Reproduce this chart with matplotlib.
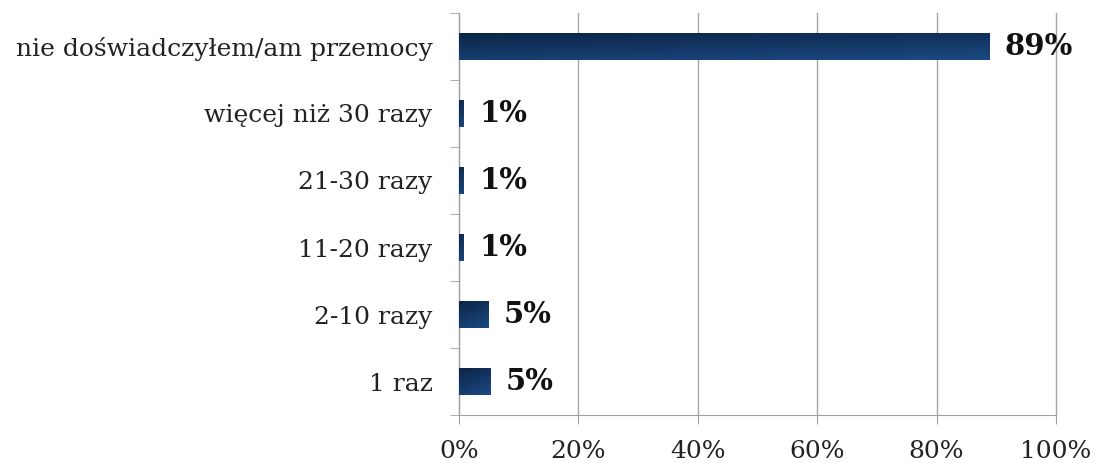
import numpy as np
import matplotlib.pyplot as plt
from matplotlib.colors import LinearSegmentedColormap

categories = ['nie doświadczyłem/am przemocy', 'więcej niż 30 razy', '21-30 razy',
              '11-20 razy', '2-10 razy', '1 raz']
values = [88.8, 0.8, 0.8, 0.8, 4.9, 5.2]
labels = ['89%', '1%', '1%', '1%', '5%', '5%']
xticks = [0, 20, 40, 60, 80, 100]

plt.rcParams['font.family'] = ['DejaVu Serif']

fig = plt.figure(figsize=(10.96, 4.63), dpi=100)
ax = fig.add_axes([0.4188, 0.1026, 0.5447, 0.8704])

cmap = LinearSegmentedColormap.from_list('navy', ['#0c2447', '#1b4a82'])
grad = np.linspace(0, 1, 64)
grad = (grad[:, None] * 0.7 + grad[None, :] * 0.3)

ypos = np.arange(len(categories))
h = 0.4
for y, v, lab in zip(ypos, values, labels):
    ax.imshow(grad, cmap=cmap, extent=[0, v, y + h / 2, y - h / 2],
              aspect='auto', origin='upper', zorder=3, interpolation='bicubic')
    ax.text(v + 2.6, y, lab, va='center', ha='left', fontsize=21,
            fontweight='bold', color='#111111', zorder=4)

ax.set_xlim(0, 100)
ax.set_ylim(len(categories) - 0.5, -0.5)
ax.set_xticks(xticks)
ax.set_xticklabels([f'{t}%' for t in xticks], fontsize=18, color='#222222')
ax.set_yticks(ypos)
ax.set_yticklabels(categories, fontsize=18, color='#222222')
ax.set_yticks(np.arange(-0.5, len(categories), 1), minor=True)
ax.tick_params(axis='y', which='major', length=0, pad=19)
ax.tick_params(axis='y', which='minor', length=6.5, color='#a0a0a0', direction='out')
ax.tick_params(axis='x', length=6.5, color='#a0a0a0', direction='out', pad=11)
ax.xaxis.grid(True, color='#a8a8a8', linewidth=1, zorder=0)
for gl in ax.get_xgridlines():
    gl.set_clip_on(False)
ax.set_axisbelow(True)
for s in ['top', 'right']:
    ax.spines[s].set_visible(False)
for s in ['left', 'bottom']:
    ax.spines[s].set_color('#a0a0a0')

fig.savefig('out.png', dpi=100)
